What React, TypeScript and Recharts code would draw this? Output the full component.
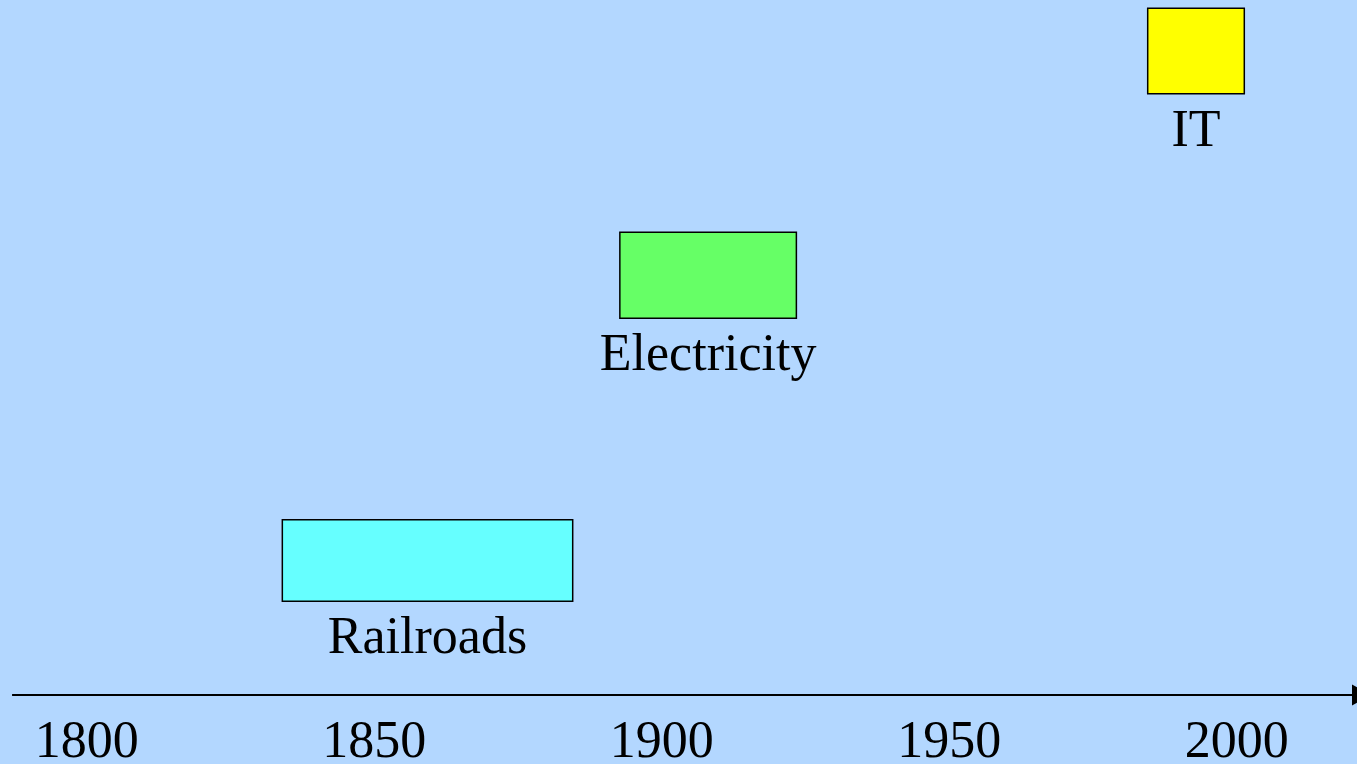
import React from "react";
import {
  ComposedChart,
  XAxis,
  YAxis,
  ReferenceArea,
  ReferenceLine,
  ReferenceDot,
} from "recharts";

// Technology eras (years) and lane heights (arbitrary vertical units 0–100)
const eraNames = ["Railroads", "Electricity", "IT"];
const eraStart = [1834, 1892.7, 1984.5];
const eraEnd = [1884.5, 1923.4, 2001.3];
const laneBottom = [13.5, 54.2, 86.5];
const laneTop = [25.2, 66.6, 98.8];
const eraColors = ["#66FFFF", "#66FF66", "#FFFF00"];

const yearTicks = [1800, 1850, 1900, 1950, 2000];
const tickLabels = ["1800", "1850", "1900", "1950", "2000"];
const yearDomain: [number, number] = [1784.9, 2020.9];
const axisStartYear = 1787;

const W = 1357;
const H = 764;
const FONT = '"Liberation Serif", "Times New Roman", serif';

const Tick = (props: any) => {
  const { x, y, payload, index } = props;
  const i = yearTicks.indexOf(payload.value);
  return (
    <text
      x={x}
      y={y + 62}
      textAnchor="middle"
      fontFamily={FONT}
      fontSize={52}
      fill="#000"
      key={index}
    >
      {i >= 0 ? tickLabels[i] : payload.value}
    </text>
  );
};

const makeLabel = (name: string) => (props: any) => {
  const vb = props.viewBox || {};
  const cx = vb.x + vb.width / 2;
  const by = vb.y + vb.height + 52;
  return (
    <text
      x={cx}
      y={by}
      textAnchor="middle"
      fontFamily={FONT}
      fontSize={52}
      fill="#000"
    >
      {name}
    </text>
  );
};

const Arrow = (props: any) => {
  const { cx, cy } = props;
  return (
    <polygon
      points={`${cx - 5},${cy - 10.5} ${cx + 14},${cy} ${cx - 5},${cy + 10.5}`}
      fill="#000"
    />
  );
};

export default function App() {
  return (
    <div
      style={{
        position: "fixed",
        left: 0,
        top: 0,
        width: W,
        height: H,
        background: "#B3D7FF",
        overflow: "hidden",
      }}
    >
      <ComposedChart
        width={W}
        height={H}
        margin={{ top: 0, right: 0, bottom: 0, left: 0 }}
        data={[]}
      >
        <XAxis
          type="number"
          dataKey="x"
          domain={yearDomain}
          ticks={yearTicks}
          interval={0}
          allowDataOverflow
          height={69}
          axisLine={false}
          tickLine={false}
          tickSize={0}
          tickMargin={0}
          tick={<Tick />}
        />
        <YAxis type="number" domain={[0, 100]} hide allowDataOverflow />
        {eraNames.map((name, i) => (
          <ReferenceArea
            key={name}
            x1={eraStart[i]}
            x2={eraEnd[i]}
            y1={laneBottom[i]}
            y2={laneTop[i]}
            fill={eraColors[i]}
            fillOpacity={1}
            stroke="#000"
            strokeWidth={1.5}
            ifOverflow="visible"
            label={makeLabel(name)}
          />
        ))}
        <ReferenceLine
          segment={[
            { x: axisStartYear, y: 0 },
            { x: yearDomain[1], y: 0 },
          ]}
          stroke="#000"
          strokeWidth={2}
          ifOverflow="visible"
        />
        <ReferenceDot
          x={yearDomain[1]}
          y={0}
          r={10}
          ifOverflow="visible"
          shape={<Arrow />}
        />
      </ComposedChart>
    </div>
  );
}
